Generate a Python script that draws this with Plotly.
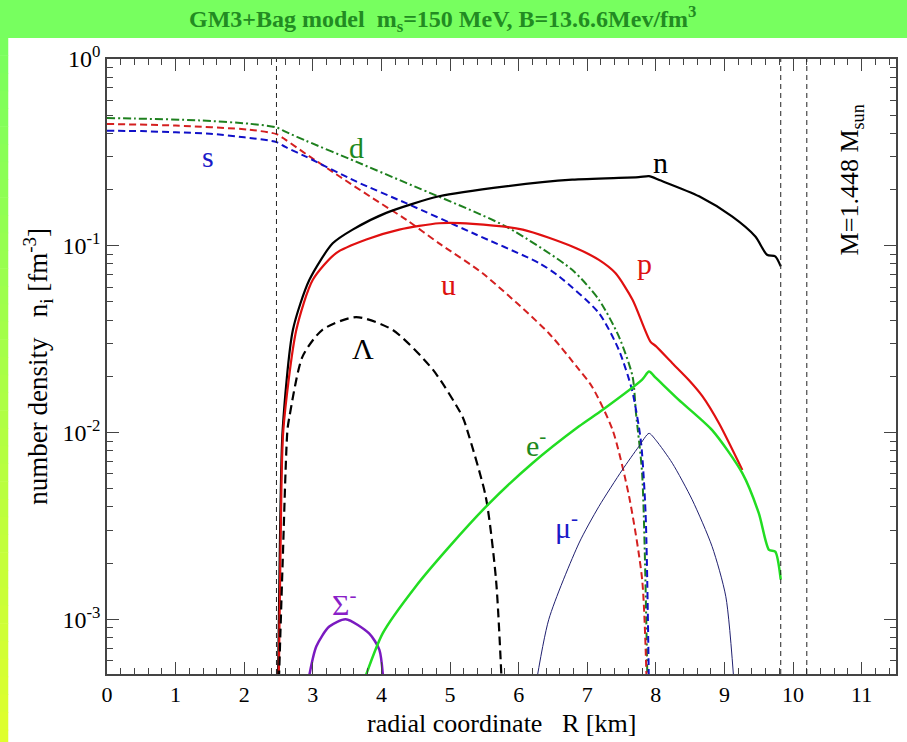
import math
import plotly.graph_objects as go

# ---------------- data ----------------
s_x = [0, 0.5, 1.0, 1.5, 2.0, 2.47, 2.6, 2.9, 3.63, 4.36, 5.33, 6.30, 6.59, 7.17, 7.46, 7.65, 7.78, 7.85, 7.90]
s_y = [0.413, 0.411, 0.405, 0.398, 0.381, 0.359, 0.338, 0.300, 0.221, 0.169, 0.117, 0.0807, 0.0685, 0.0436, 0.0277, 0.017, 0.0091, 0.0037, 0.0004]

d_x = [0, 0.4, 1.35, 2.08, 2.47, 2.6, 2.9, 3.63, 4.36, 5.81, 6.78, 7.17, 7.46, 7.66, 7.71, 7.80, 7.88]
d_y = [0.483, 0.480, 0.469, 0.450, 0.430, 0.408, 0.365, 0.282, 0.217, 0.127, 0.0743, 0.0514, 0.0327, 0.020, 0.0127, 0.006, 0.0004]

u_x = [0, 1.0, 2.08, 2.47, 2.6, 2.9, 3.39, 3.87, 4.36, 4.84, 5.47, 6.44, 6.88, 7.07, 7.37, 7.61, 7.80, 7.87]
u_y = [0.449, 0.440, 0.418, 0.396, 0.370, 0.310, 0.235, 0.180, 0.138, 0.103, 0.0714, 0.034, 0.0217, 0.0176, 0.0103, 0.00454, 0.00163, 0.0004]

n_x = [2.49, 2.52, 2.56, 2.71, 2.95, 3.29, 3.58, 4.07, 4.84, 5.81, 6.78, 7.75, 7.90, 8.05, 8.63, 9.11, 9.45, 9.62, 9.74, 9.82]
n_y = [0.0004, 0.0025, 0.0103, 0.0355, 0.0657, 0.103, 0.122, 0.150, 0.184, 0.208, 0.226, 0.233, 0.236, 0.225, 0.184, 0.1435, 0.112, 0.0895, 0.0877, 0.0775]

p_x = [2.50, 2.53, 2.57, 2.76, 3.0, 3.34, 3.78, 4.26, 4.84, 5.33, 6.06, 6.78, 7.17, 7.41, 7.66, 7.92, 8.0, 8.24, 8.48, 8.68, 8.92, 9.26]
p_y = [0.0004, 0.0025, 0.0103, 0.0355, 0.0657, 0.0914, 0.108, 0.122, 0.132, 0.131, 0.122, 0.099, 0.084, 0.0714, 0.0514, 0.0307, 0.029, 0.0235, 0.0191, 0.0156, 0.0112, 0.0063]

lam_x = [2.50, 2.56, 2.63, 2.66, 2.85, 3.14, 3.63, 4.16, 4.75, 5.18, 5.25, 5.52, 5.67, 5.76]
lam_y = [0.0004, 0.002, 0.0103, 0.0122, 0.0255, 0.0355, 0.0415, 0.0355, 0.0217, 0.0122, 0.0103, 0.00454, 0.00163, 0.0004]

sig_x = [2.90, 3.05, 3.24, 3.48, 3.82, 3.97, 4.04]
sig_y = [0.0004, 0.000714, 0.000914, 0.0010, 0.00084, 0.000686, 0.0004]

e_x = [3.68, 4.02, 4.50, 4.99, 5.55, 6.20, 6.88, 7.22, 7.80, 7.90, 8.0, 8.33, 8.82, 9.26, 9.50, 9.65, 9.74, 9.82]
e_y = [0.0004, 0.000843, 0.0015, 0.00245, 0.0041, 0.00685, 0.0108, 0.0132, 0.0192, 0.0212, 0.0196, 0.015, 0.0103, 0.00606, 0.0037, 0.00235, 0.0023, 0.00163]

mu_x = [6.23, 6.44, 6.88, 7.17, 7.51, 7.75, 7.90, 8.0, 8.24, 8.53, 8.82, 9.02, 9.15]
mu_y = [0.0004, 0.0010, 0.00256, 0.00402, 0.0063, 0.0084, 0.0099, 0.0091, 0.00685, 0.00436, 0.00245, 0.00132, 0.0004]

vline_x = [2.47, 9.82, 10.2]

label_text = ["s", "d", "u", "n", "p", "Λ", "e<sup>-</sup>", "μ<sup>-</sup>", "Σ<sup>-</sup>"]
label_x = [1.47, 3.63, 4.98, 8.07, 7.84, 3.73, 6.25, 6.70, 3.46]
label_y = [0.30, 0.334, 0.0618, 0.28, 0.0808, 0.0283, 0.0088, 0.0032, 0.00124]
label_color = ["#1a1ac8", "#1e8a1e", "#dd1111", "#000000", "#dd1111", "#000000", "#1e8a1e", "#1a1ac8", "#8a1fc8"]

mass_text = "M=1.448 M<sub>sun</sub>"
mass_x, mass_y = 10.85, 0.225

y_tickvals = [1e-3, 1e-2, 1e-1, 1]
y_ticktext = ["10<sup>-3</sup>", "10<sup>-2</sup>", "10<sup>-1</sup>", "10<sup>0</sup>"]
y_minor = [k * 10.0 ** e for e in (-4, -3, -2, -1) for k in range(2, 10)]

title_text = "GM3+Bag model  m<sub>s</sub>=150 MeV, B=13.6.6Mev/fm<sup>3</sup>"

SERIF = "Liberation Serif, Times New Roman, serif"

fig = go.Figure()


def add(x, y, color, width, dash="solid", smooth=0.7):
    fig.add_trace(go.Scatter(x=x, y=y, mode="lines",
                             line=dict(color=color, width=width, dash=dash, shape="spline", smoothing=smooth),
                             showlegend=False, hoverinfo="skip"))


add(d_x, d_y, "#1e801e", 2, "8px,3px,2px,3px")
add(u_x, u_y, "#d42020", 2, "7px,4px")
add(s_x, s_y, "#1010c8", 2, "7px,4px")
add(n_x, n_y, "#000000", 2.2)
add(p_x, p_y, "#e01010", 2.2)
add(lam_x, lam_y, "#000000", 2.2, "9px,5px")
add(sig_x, sig_y, "#7a1ac0", 2.5)
add(e_x, e_y, "#22dd22", 2.5)
add(mu_x, mu_y, "#202070", 1)

shapes = []
# title bar
shapes.append(dict(type="rect", xref="paper", yref="paper", x0=-0.2, x1=1.2,
                   y0=1 + 21 / 615, y1=1 + 70 / 615, fillcolor="#77ff5f", line=dict(width=0), layer="below"))
# left gradient strip
nseg = 40
y_top = 1 + 21 / 615
y_bot = -68 / 615 - 0.01
for i in range(nseg):
    t0 = i / nseg
    t1 = (i + 1) / nseg
    tm = (t0 + t1) / 2
    r = int(120 + (225 - 120) * tm)
    b = int(95 + (45 - 95) * tm)
    shapes.append(dict(type="rect", xref="paper", yref="paper", x0=-0.2, x1=(8 - 107) / 791,
                       y0=y_top - (y_top - y_bot) * t1, y1=y_top - (y_top - y_bot) * t0 + 0.001,
                       fillcolor=f"rgb({r},255,{b})", line=dict(width=0), layer="below"))
for vx in vline_x:
    shapes.append(dict(type="line", xref="x", yref="paper", x0=vx, x1=vx, y0=0, y1=1,
                       line=dict(color="#222222", width=1, dash="5px,4px")))

annotations = []
for t, x, y, c in zip(label_text, label_x, label_y, label_color):
    annotations.append(dict(x=x, y=math.log10(y), xref="x", yref="y", text=t, showarrow=False,
                            font=dict(family=SERIF, size=30, color=c)))
annotations.append(dict(x=mass_x, y=math.log10(mass_y), xref="x", yref="y", text=mass_text,
                        showarrow=False, textangle=-90, font=dict(family=SERIF, size=26, color="#000000")))
annotations.append(dict(x=(443 - 107) / 791, y=1 + 40 / 615, xref="paper", yref="paper", text=title_text,
                        showarrow=False, xanchor="center", yanchor="middle",
                        font=dict(family=SERIF, size=24, color="#228b22", weight="bold")))
annotations.append(dict(x=(37 - 107) / 791, y=0.5, xref="paper", yref="paper",
                        text="number density   n<sub>i</sub> [fm<sup>-3</sup>]", showarrow=False,
                        textangle=-90, xanchor="center", yanchor="middle",
                        font=dict(family=SERIF, size=27, color="#000000")))
annotations.append(dict(x=0.5, y=(674 - 723) / 615, xref="paper", yref="paper",
                        text="radial coordinate   R [km]", showarrow=False,
                        xanchor="center", yanchor="middle",
                        font=dict(family=SERIF, size=26, color="#000000")))

fig.update_layout(
    width=907, height=742,
    margin=dict(l=107, r=9, t=59, b=68),
    paper_bgcolor="#ffffff", plot_bgcolor="#ffffff",
    shapes=shapes, annotations=annotations,
    showlegend=False,
)
fig.update_xaxes(range=[0, 11.5], dtick=1, tick0=0, showgrid=False, zeroline=False,
                 showline=True, linecolor="#444444", linewidth=1.5, mirror="ticks",
                 ticks="inside", ticklen=12, tickwidth=1.2, tickcolor="#444444",
                 minor=dict(dtick=0.2, ticks="inside", ticklen=6, tickcolor="#444444", tickwidth=1),
                 tickfont=dict(family=SERIF, size=22, color="#000000"))
fig.update_yaxes(type="log", range=[-3.293, 0], tickvals=y_tickvals, ticktext=y_ticktext,
                 showgrid=False, zeroline=False,
                 showline=True, linecolor="#444444", linewidth=1.5, mirror="ticks",
                 ticks="inside", ticklen=12, tickwidth=1.2, tickcolor="#444444",
                 minor=dict(tickvals=y_minor, ticks="inside", ticklen=6, tickcolor="#444444", tickwidth=1),
                 tickfont=dict(family=SERIF, size=24, color="#000000"))

fig.write_html("out.html")
